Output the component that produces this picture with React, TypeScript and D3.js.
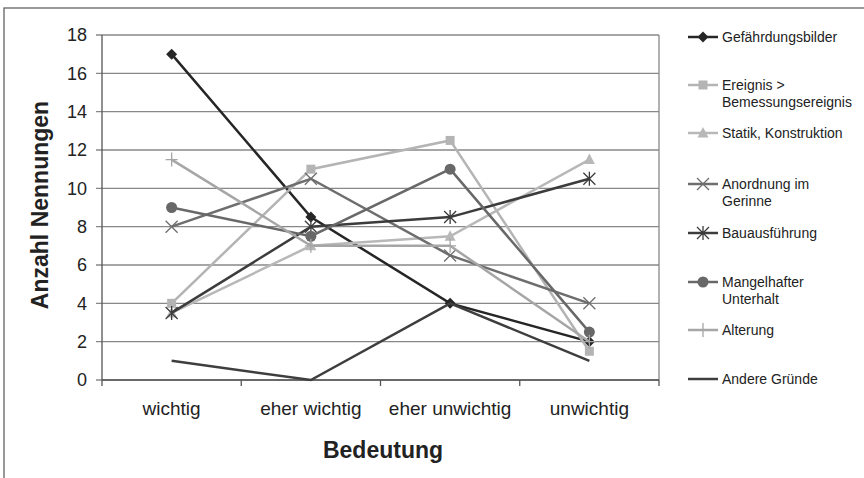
import React from "react";
import * as d3 from "d3";

const categories = ["wichtig", "eher wichtig", "eher unwichtig", "unwichtig"];
const yTicks = [0, 2, 4, 6, 8, 10, 12, 14, 16, 18];

const seriesNames = [
  "Gefährdungsbilder",
  "Ereignis > Bemessungsereignis",
  "Statik, Konstruktion",
  "Anordnung im Gerinne",
  "Bauausführung",
  "Mangelhafter Unterhalt",
  "Alterung",
  "Andere Gründe",
];
const legendLines = [
  ["Gefährdungsbilder"],
  ["Ereignis >", "Bemessungsereignis"],
  ["Statik, Konstruktion"],
  ["Anordnung im", "Gerinne"],
  ["Bauausführung"],
  ["Mangelhafter", "Unterhalt"],
  ["Alterung"],
  ["Andere Gründe"],
];
const gefaehrdung = [17, 8.5, 4, 2];
const ereignis = [4, 11, 12.5, 1.5];
const statik = [3.5, 7, 7.5, 11.5];
const anordnung = [8, 10.5, 6.5, 4];
const bauausfuehrung = [3.5, 8, 8.5, 10.5];
const mangelhaft = [9, 7.5, 11, 2.5];
const alterung = [11.5, 7, 7, 2];
const andere = [1, 0, 4, 1];

const seriesValues = [gefaehrdung, ereignis, statik, anordnung, bauausfuehrung, mangelhaft, alterung, andere];
const colors = ["#262626", "#b4b4b4", "#b8b8b8", "#6e6e6e", "#3c3c3c", "#686868", "#a6a6a6", "#3e3e3e"];
const markers = ["diamond", "square", "triangle", "x", "asterisk", "circle", "plus", "none"];

const W = 864, H = 478;
const M = { left: 102, right: 659, top: 35, bottom: 380 };
const FONT = "'Liberation Sans', Arial, sans-serif";

function Marker({ type, x, y, color }: { type: string; x: number; y: number; color: string }) {
  const s = 5.5;
  switch (type) {
    case "diamond":
      return <path d={`M${x},${y - s}L${x + s},${y}L${x},${y + s}L${x - s},${y}Z`} fill={color} />;
    case "square":
      return <rect x={x - 4.5} y={y - 4.5} width={9} height={9} fill={color} />;
    case "triangle":
      return <path d={`M${x},${y - 6}L${x + 5.5},${y + 4.5}L${x - 5.5},${y + 4.5}Z`} fill={color} />;
    case "circle":
      return <circle cx={x} cy={y} r={5.5} fill={color} />;
    case "x":
      return <path d={`M${x - 6},${y - 6}L${x + 6},${y + 6}M${x - 6},${y + 6}L${x + 6},${y - 6}`} stroke={color} strokeWidth={1.3} />;
    case "asterisk":
      return (
        <path
          d={`M${x - 6},${y - 6}L${x + 6},${y + 6}M${x - 6},${y + 6}L${x + 6},${y - 6}M${x},${y - 7}L${x},${y + 7}`}
          stroke={color}
          strokeWidth={1.3}
        />
      );
    case "plus":
      return <path d={`M${x - 6},${y}L${x + 6},${y}M${x},${y - 7}L${x},${y + 7}`} stroke={color} strokeWidth={1.3} />;
    default:
      return null;
  }
}

export default function App() {
  const x = d3.scaleBand<string>().domain(categories).range([M.left, M.right]);
  const y = d3.scaleLinear().domain([0, 18]).range([M.bottom, M.top]);
  const cx = (c: string) => (x(c) as number) + x.bandwidth() / 2;
  const line = d3
    .line<number>()
    .x((_, i) => cx(categories[i]))
    .y((v) => y(v));

  const legendY = [37, 85, 133, 184, 233, 282, 330, 379];

  return (
    <svg
      width={W}
      height={H}
      style={{ position: "absolute", left: 0, top: 0, background: "#fff" }}
      fontFamily={FONT}
    >
      <rect x={4} y={8} width={W + 10} height={H + 10} fill="none" stroke="#555" strokeWidth={1.2} />
      {yTicks.map((t) => (
        <line key={t} x1={M.left - 6} x2={M.right} y1={y(t)} y2={y(t)} stroke="#888" strokeWidth={1.3} />
      ))}
      <line x1={M.right} x2={M.right} y1={M.top} y2={M.bottom} stroke="#888" strokeWidth={1.3} />
      <line x1={M.left} x2={M.left} y1={M.top} y2={M.bottom} stroke="#555" strokeWidth={1.3} />
      <line x1={M.left} x2={M.right} y1={M.bottom} y2={M.bottom} stroke="#555" strokeWidth={1.3} />
      {categories.map((c) => (
        <line key={c} x1={x(c) as number} x2={x(c) as number} y1={M.bottom} y2={M.bottom + 6} stroke="#555" strokeWidth={1.3} />
      ))}
      <line x1={M.right} x2={M.right} y1={M.bottom} y2={M.bottom + 6} stroke="#555" strokeWidth={1.3} />
      {yTicks.map((t) => (
        <text key={t} x={M.left - 15} y={y(t)} dy="0.36em" textAnchor="end" fontSize={18} fill="#222">
          {t}
        </text>
      ))}
      {categories.map((c) => (
        <text key={c} x={cx(c)} y={415} textAnchor="middle" fontSize={19} fill="#222">
          {c}
        </text>
      ))}
      <text transform={`translate(48,205) rotate(-90)`} textAnchor="middle" fontSize={23} fontWeight="bold" fill="#222">
        Anzahl Nennungen
      </text>
      <text x={383} y={458} textAnchor="middle" fontSize={23} fontWeight="bold" fill="#222">
        Bedeutung
      </text>
      {seriesValues.map((vals, si) => (
        <g key={seriesNames[si]}>
          <path d={line(vals) as string} fill="none" stroke={colors[si]} strokeWidth={2.5} />
          {vals.map((v, i) => (
            <Marker key={i} type={markers[si]} x={cx(categories[i])} y={y(v)} color={colors[si]} />
          ))}
        </g>
      ))}
      {legendLines.map((lines, si) => (
        <g key={si}>
          <line x1={688} x2={718} y1={legendY[si]} y2={legendY[si]} stroke={colors[si]} strokeWidth={2.5} />
          <Marker type={markers[si]} x={703} y={legendY[si]} color={colors[si]} />
          {lines.map((t, li) => (
            <text key={li} x={722} y={legendY[si] + li * 17} dy="0.36em" fontSize={14} fill="#222">
              {t}
            </text>
          ))}
        </g>
      ))}
    </svg>
  );
}
